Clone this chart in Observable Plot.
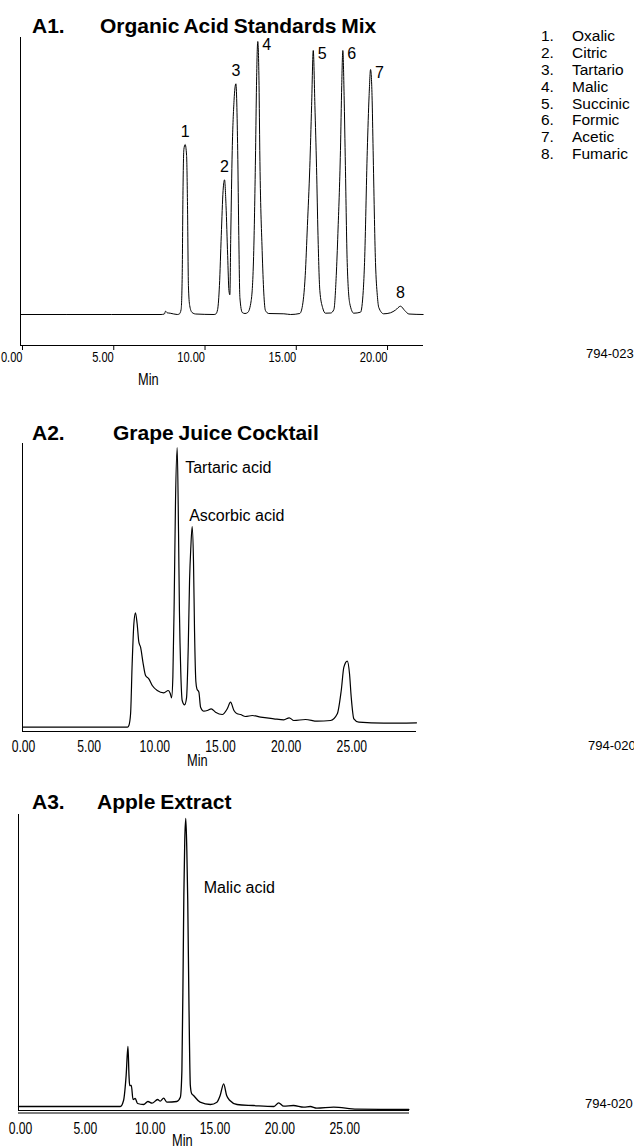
<!DOCTYPE html>
<html><head><meta charset="utf-8">
<script src="https://cdn.jsdelivr.net/npm/d3@7"></script>
<script src="https://cdn.jsdelivr.net/npm/@observablehq/plot@0.6"></script>
<style>
html,body{margin:0;padding:0;background:#fff;}
#page{position:relative;width:634px;height:1148px;overflow:hidden;background:#fff;}
#page svg{position:absolute;left:0;overflow:visible;}
.abs{position:absolute;white-space:nowrap;color:#000;}
.title{font-family:"Liberation Sans",Arial,sans-serif;font-weight:bold;font-size:21px;line-height:21px;word-spacing:-1px;}
.reg{font-family:"Liberation Sans",Arial,sans-serif;}
.nar{font-family:"Liberation Sans",Arial,sans-serif;transform:scaleX(0.8);transform-origin:left center;}
</style></head><body><div id="page"></div>
<script>
// ---------- data ----------
const titles = [["A1.", "Organic Acid Standards Mix"], ["A2.", "Grape Juice Cocktail"], ["A3.", "Apple Extract"]];
const captions = ["794-023", "794-020", "794-020"];
const legendNums = ["1.", "2.", "3.", "4.", "5.", "6.", "7.", "8."];
const legendNames = ["Oxalic", "Citric", "Tartario", "Malic", "Succinic", "Formic", "Acetic", "Fumaric"];
const axisLabel = "Min";

// A1 — organic acid standards (time in min, detector response, arbitrary units)
const a1Ticks = [0, 5, 10, 15, 20];
const a1Time = [0, 5, 7.7, 7.88, 7.95, 8.04, 8.2, 8.59, 8.7, 8.8, 8.86, 8.9, 8.95, 9.02, 9.1, 9.15, 9.2, 9.27, 9.4, 9.6,
  10.6, 10.7, 10.8, 10.9, 11.0, 11.1, 11.18, 11.26, 11.35, 11.42, 11.47, 11.52, 11.6, 11.7, 11.8, 11.9, 11.96, 12.02, 12.15, 12.3, 12.45,
  12.64, 12.78, 12.88, 12.93, 13.0, 13.07, 13.11, 13.24, 13.42, 13.6, 14.43, 14.8,
  15.3, 15.43, 15.6, 15.72, 15.85, 15.95, 16.04, 16.13, 16.22, 16.3, 16.4, 16.55, 16.71,
  17.0, 17.17, 17.3, 17.39, 17.53, 17.6, 17.66, 17.73, 17.8, 17.9, 18.04, 18.26,
  18.63, 18.78, 18.85, 19.0, 19.1, 19.18, 19.26, 19.32, 19.45, 19.55, 19.63, 19.9,
  20.27, 20.55, 20.82, 21.05, 21.28, 22.06];
const a1Signal = [31, 31, 31, 31.5, 34.3, 32.7, 32.3, 31, 31.5, 36, 70, 150, 196, 201, 190, 140, 60, 40, 33, 31.5,
  31, 31.5, 36, 60, 110, 155, 165.7, 140, 90, 55, 50.7, 110, 195, 245, 261.7, 195, 110, 48, 33, 32, 33,
  45, 95, 195, 260, 304, 260, 195, 95, 35, 32, 31.7, 31,
  32, 38, 70, 120, 178, 240, 295, 240, 178, 110, 55, 38, 32.3,
  32.5, 36, 70, 112, 195, 260, 295, 250, 180, 83, 42, 32.3,
  33.3, 55, 83, 195, 250, 276, 250, 195, 83, 50, 38, 31.7,
  32.7, 35.5, 39.3, 35, 31.5, 31];
const a1PeakText = ["1", "2", "3", "4", "5", "6", "7", "8"];
const a1PeakTime = [9.02, 11.18, 11.8, 13.0, 16.04, 17.66, 19.18, 20.82];
const a1PeakSignal = [201, 165.7, 261.7, 304, 295, 295, 276, 39.3];

// A2 — grape juice cocktail
const a2Ticks = [0, 5, 10, 15, 20, 25];
const a2Time = [0, 8.0, 8.1, 8.23, 8.35, 8.48, 8.6, 8.73, 8.86, 8.99, 9.19, 9.37, 9.62, 9.88, 10.26, 10.76, 11.1, 11.25, 11.35,
  11.45, 11.55, 11.65, 11.78, 11.88, 11.95, 12.05, 12.16, 12.34, 12.49, 12.62, 12.72, 12.82, 12.92, 13.02, 13.1, 13.2, 13.28, 13.43,
  13.56, 13.81, 14.07, 14.37, 14.7, 15.21, 15.59, 15.84, 16.1, 16.35, 16.6, 16.98, 17.5, 18.13, 19.14, 19.9, 20.31, 20.66,
  21.55, 22.44, 23.46, 23.97, 24.27, 24.47, 24.73, 24.9, 25.03, 25.23, 25.61, 27.52, 30];
const a2Signal = [4.3, 4.3, 6, 17.7, 67.7, 107.7, 118.7, 107.7, 89.3, 84.3, 67.7, 56, 52.7, 46, 41, 38.7, 41, 38, 33.7,
  55, 130, 230, 284, 200, 120, 60, 31, 26.7, 33.7, 84.3, 151, 185, 205, 170, 100, 50, 42.7, 39.3,
  24.3, 20.3, 21, 22.7, 19.3, 17, 22.7, 29.3, 21, 17.7, 17, 15, 16, 14.3, 12.7, 11.7, 13.7, 11,
  12, 10.3, 11, 17.7, 41, 64.3, 70.3, 57.7, 34.3, 12.7, 9.3, 8.3, 8.7];
const a2Notes = ["Tartaric acid", "Ascorbic acid"];
const a2NoteTime = [11.78, 12.92];
const a2NoteSignal = [284, 205];

// A3 — apple extract
const a3Ticks = [0, 5, 10, 15, 20, 25];
const a3Time = [0, 7.85, 8.1, 8.3, 8.44, 8.52, 8.57, 8.7, 8.83, 9.0, 9.18, 9.65, 9.98, 10.3, 10.73, 10.93, 11.19, 11.45, 12.2,
  12.48, 12.6, 12.7, 12.75, 12.82, 12.9, 12.98, 13.05, 13.15, 13.25, 13.35, 13.5, 14.0, 14.8, 15.3, 15.55, 15.82, 16.05, 16.3,
  16.85, 18.1, 19.7, 20.06, 20.45, 21.2, 22.0, 22.5, 23.0, 24.3, 26.1, 30.1];
const a3Signal = [4, 4, 10, 35, 64, 35, 25, 25, 11, 12, 7, 6, 9, 7.3, 11, 9.3, 12.3, 8.3, 9,
  13.3, 40, 150, 215, 270, 292, 260, 210, 100, 25, 17, 15, 8.3, 6, 8.3, 15, 26.7, 15, 10,
  6, 5, 4, 7.7, 4.3, 5, 3.3, 4, 2.3, 3.3, 1.3, 1];
const a3Notes = ["Malic acid"];
const a3NoteTime = [12.9];
const a3NoteSignal = [292];

// ---------- layout ----------
const page = document.getElementById("page");
const SANS = '"Liberation Sans",Arial,sans-serif';

function place(text, left, cy, cls, fs) {
  const d = document.createElement("div");
  d.className = "abs " + cls;
  d.textContent = text;
  d.style.left = left + "px";
  d.style.top = (cy - 0.49 * fs) + "px";
  d.style.fontSize = fs + "px";
  d.style.lineHeight = fs + "px";
  page.appendChild(d);
}
const rows = (ts, vs) => ts.map((t, i) => ({t, v: vs[i]}));

// squeeze Arial-metric text into a narrow face (the original uses a condensed sans)
function condense(svg, factor) {
  svg.querySelectorAll('g[aria-label="x-axis tick label"] text, g[aria-label="peak-number"] text').forEach(t => {
    const L = t.getComputedTextLength();
    t.setAttribute("textLength", (L * factor).toFixed(2));
    t.setAttribute("lengthAdjust", "spacingAndGlyphs");
  });
}

function panel(o) {
  const svg = Plot.plot({
    width: 634, height: o.height,
    marginLeft: o.ml, marginRight: 634 - o.xEnd, marginTop: o.mt, marginBottom: o.mb,
    x: {domain: [0, o.xMax], axis: null},
    y: {domain: [0, o.yMax], axis: null},
    style: {fontFamily: SANS, fontSize: o.tickFont + "px", color: "#000", background: "transparent"},
    marks: [
      ...o.axisLines,
      Plot.ruleX([0], {stroke: "#000", strokeWidth: 1}),
      Plot.axisX({ticks: o.ticks, tickFormat: d => d.toFixed(2), tickSize: o.tickSize, tickPadding: o.tickPad,
        textAnchor: o.tickAnchor, dx: o.tickDx, label: null, fontSize: o.tickFont, stroke: "#000"}),
      Plot.line(o.data, {x: "t", y: "v", curve: "monotone-x", stroke: "#000", strokeWidth: o.lw}),
      ...o.extra
    ]
  });
  svg.style.top = o.top + "px";
  page.appendChild(svg);
  condense(svg, o.squeeze);
}

// A1
const a1Peaks = a1PeakText.map((s, i) => ({s, t: a1PeakTime[i], v: a1PeakSignal[i]}));
const rightSide = new Set(["4", "5", "6", "7"]);
panel({
  top: 0, height: 390, ml: 20, xEnd: 423, mt: 37, mb: 45, xMax: 22.08, yMax: 308,
  ticks: a1Ticks, tickSize: 5, tickPad: 1, tickAnchor: "end", tickDx: 2, tickFont: 15, squeeze: 0.74, lw: 1,
  data: rows(a1Time, a1Signal),
  axisLines: [Plot.ruleY([0], {stroke: "#000", strokeWidth: 1})],
  extra: [
    Plot.text(a1Peaks.filter(d => !rightSide.has(d.s)), {x: "t", y: "v", text: "s", dy: -13, fontSize: 16, ariaLabel: "peak-number"}),
    Plot.text(a1Peaks.filter(d => rightSide.has(d.s)), {x: "t", y: "v", text: "s", dx: 9, dy: 3, fontSize: 16, ariaLabel: "peak-number"})
  ]
});

// A2
const a2N = a2Notes.map((s, i) => ({s, t: a2NoteTime[i], v: a2NoteSignal[i]}));
panel({
  top: 400, height: 370, ml: 22, xEnd: 416, mt: 43, mb: 39, xMax: 30, yMax: 288,
  ticks: a2Ticks, tickSize: 0, tickPad: 9, tickAnchor: "middle", tickDx: 1, tickFont: 16, squeeze: 0.76, lw: 1.2,
  data: rows(a2Time, a2Signal),
  axisLines: [Plot.ruleY([0], {stroke: "#000", strokeWidth: 1})],
  extra: [
    Plot.text(a2N.slice(0, 1), {x: "t", y: "v", text: "s", dx: 8, dy: 20, textAnchor: "start", fontSize: 16}),
    Plot.text(a2N.slice(1, 2), {x: "t", y: "v", text: "s", dx: -3, dy: -11, textAnchor: "start", fontSize: 16})
  ]
});

// A3
const a3N = a3Notes.map((s, i) => ({s, t: a3NoteTime[i], v: a3NoteSignal[i]}));
panel({
  top: 780, height: 368, ml: 18, xEnd: 409, mt: 34, mb: 38, xMax: 30.15, yMax: 296,
  ticks: a3Ticks, tickSize: 0, tickPad: 12, tickAnchor: "middle", tickDx: 2, tickFont: 16, squeeze: 0.76, lw: 1.3,
  data: rows(a3Time, a3Signal),
  axisLines: [Plot.ruleY([0], {stroke: "#000", strokeWidth: 1}), Plot.ruleY([0], {stroke: "#000", strokeWidth: 1, dy: 2.5})],
  extra: [
    Plot.text(a3N, {x: "t", y: "v", text: "s", dx: 18, dy: 69, textAnchor: "start", fontSize: 16})
  ]
});

// titles
const titleY = [25, 432, 801.7];
const titleX = [100, 113, 97];
titles.forEach((t, i) => {
  place(t[0], 32, titleY[i], "title", 21);
  place(t[1], titleX[i], titleY[i], "title", 21);
});
// axis labels
[[138, 380], [187, 761], [172, 1141]].forEach(p => place(axisLabel, p[0], p[1], "nar", 16));
// captions
[[586, 353], [588, 745], [585, 1103]].forEach((p, i) => place(captions[i], p[0], p[1], "reg", 13));
// legend
legendNums.forEach((n, i) => {
  place(n, 541, 36 + i * 16.8, "reg", 15.5);
  place(legendNames[i], 572, 36 + i * 16.8, "reg", 15.5);
});
</script>
</body></html>
